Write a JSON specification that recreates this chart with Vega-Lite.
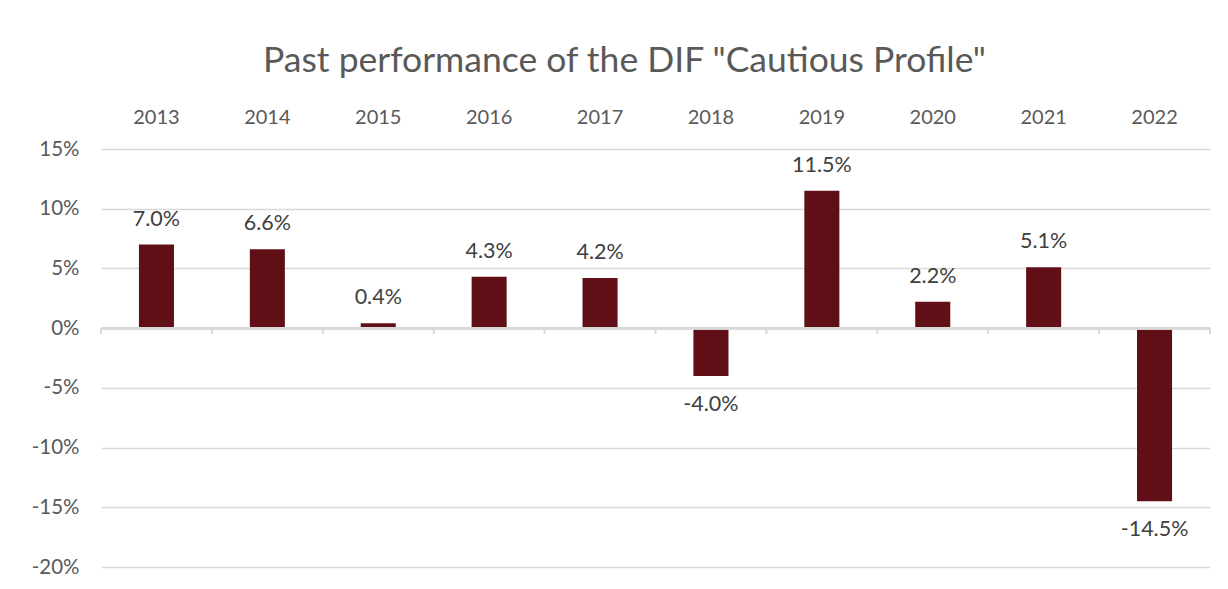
{
  "$schema": "https://vega.github.io/schema/vega-lite/v6.json",
  "width": 1109,
  "height": 418,
  "autosize": {"type": "none"},
  "padding": {"left": 101, "top": 149, "right": 18, "bottom": 22},
  "background": "white",
  "config": {
    "font": "Lato",
    "view": {"stroke": null},
    "locale": {"number": {"decimal": ".", "thousands": ",", "grouping": [3], "currency": ["$", ""], "minus": "-"}}
  },
  "title": {
    "text": "Past performance of the DIF \"Cautious Profile\"",
    "fontSize": 35.5,
    "fontWeight": "normal",
    "color": "#595959",
    "anchor": "middle",
    "dx": -31,
    "offset": 28
  },
  "data": {
    "values": [
      {"year": "2013", "value": 0.070},
      {"year": "2014", "value": 0.066},
      {"year": "2015", "value": 0.004},
      {"year": "2016", "value": 0.043},
      {"year": "2017", "value": 0.042},
      {"year": "2018", "value": -0.040},
      {"year": "2019", "value": 0.115},
      {"year": "2020", "value": 0.022},
      {"year": "2021", "value": 0.051},
      {"year": "2022", "value": -0.145}
    ]
  },
  "layer": [
    {
      "layer": [
        {
          "mark": {"type": "bar", "color": "#600F17"},
          "encoding": {
            "x": {
              "field": "year", "type": "nominal", "sort": null,
              "scale": {"paddingInner": 0.684, "paddingOuter": 0.342},
              "axis": {
                "orient": "top", "title": null, "domain": false, "ticks": false, "grid": false,
                "labelAngle": 0, "labelFontSize": 20, "labelColor": "#595959", "labelPadding": 22
              }
            },
            "y": {
              "field": "value", "type": "quantitative",
              "scale": {"domain": [-0.2, 0.15], "nice": false, "zero": false},
              "axis": {
                "title": null, "values": [-0.2, -0.15, -0.1, -0.05, 0, 0.05, 0.1, 0.15],
                "format": ".0%", "domain": false, "ticks": false,
                "gridColor": "#d9d9d9", "gridWidth": 1.5,
                "labelFontSize": 20.5, "labelColor": "#595959", "labelPadding": 22
              }
            }
          }
        },
        {
          "transform": [{"filter": "datum.value >= 0"}],
          "mark": {"type": "text", "dy": -25, "fontSize": 21.5, "color": "#404040"},
          "encoding": {
            "x": {"field": "year", "type": "nominal", "sort": null},
            "y": {"field": "value", "type": "quantitative"},
            "text": {"field": "value", "type": "quantitative", "format": ".1%"}
          }
        },
        {
          "transform": [{"filter": "datum.value < 0"}],
          "mark": {"type": "text", "dy": 29, "fontSize": 21.5, "color": "#404040"},
          "encoding": {
            "x": {"field": "year", "type": "nominal", "sort": null},
            "y": {"field": "value", "type": "quantitative"},
            "text": {"field": "value", "type": "quantitative", "format": ".1%"}
          }
        },
        {
          "mark": {"type": "rule", "color": "#d9d9d9", "strokeWidth": 2},
          "encoding": {"y": {"datum": 0}}
        }
      ]
    },
    {
      "layer": [
        {
          "mark": {"type": "rule", "color": "#d9d9d9", "strokeWidth": 2},
          "encoding": {
            "x": {"field": "year", "type": "nominal", "sort": null, "bandPosition": 0,
                  "scale": {"paddingInner": 0, "paddingOuter": 0}, "axis": null},
            "y": {"datum": 0, "type": "quantitative"},
            "y2": {"datum": -0.005}
          }
        },
        {
          "transform": [{"filter": "datum.year == '2022'"}],
          "mark": {"type": "rule", "color": "#d9d9d9", "strokeWidth": 2},
          "encoding": {
            "x": {"field": "year", "type": "nominal", "sort": null, "bandPosition": 1},
            "y": {"datum": 0, "type": "quantitative"},
            "y2": {"datum": -0.005}
          }
        }
      ]
    }
  ],
  "resolve": {"scale": {"x": "independent"}}
}
